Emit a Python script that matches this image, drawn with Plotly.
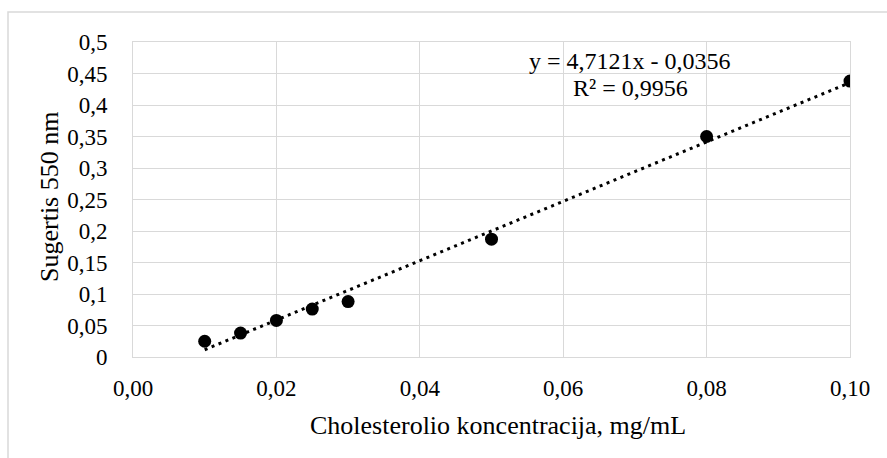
import plotly.graph_objects as go
import numpy as np

# Data
conc = [0.01, 0.015, 0.02, 0.025, 0.03, 0.05, 0.08, 0.10]
absorb = [0.025, 0.038, 0.058, 0.076, 0.088, 0.187, 0.350, 0.438]

x_tickvals = [0.00, 0.02, 0.04, 0.06, 0.08, 0.10]
x_ticktext = ["0,00", "0,02", "0,04", "0,06", "0,08", "0,10"]
y_tickvals = [0, 0.05, 0.10, 0.15, 0.20, 0.25, 0.30, 0.35, 0.40, 0.45, 0.50]
y_ticktext = ["0", "0,05", "0,1", "0,15", "0,2", "0,25", "0,3", "0,35", "0,4", "0,45", "0,5"]

slope = 4.7121
intercept = -0.0356
eq_text = "y = 4,7121x - 0,0356"
r2_text = "R² = 0,9956"
x_title = "Cholesterolio koncentracija, mg/mL"
y_title = "Sugertis 550 nm"

FONT = "'Liberation Serif', 'Times New Roman', serif"
GRID = "#d9d9d9"

trend_x = np.array([min(conc), max(conc)])
trend_y = slope * trend_x + intercept

fig = go.Figure()
fig.add_trace(go.Scatter(
    x=trend_x, y=trend_y, mode="lines",
    line=dict(color="black", width=3, dash="3px,4.5px"),
    hoverinfo="skip", showlegend=False,
))
fig.add_trace(go.Scatter(
    x=conc, y=absorb, mode="markers",
    marker=dict(color="black", size=13),
    showlegend=False,
))

W, H = 887, 458
L, R, T, B = 133, 37, 42, 101
pw, ph = W - L - R, H - T - B

def px(x):
    return (x - L) / pw

def py(y):
    return (H - B - y) / ph

fig.update_layout(
    width=W, height=H,
    margin=dict(l=L, r=R, t=T, b=B),
    paper_bgcolor="white", plot_bgcolor="white",
    font=dict(family=FONT, size=23, color="black"),
    xaxis=dict(
        range=[0, 0.10], tickvals=x_tickvals, ticktext=x_ticktext,
        showgrid=True, gridcolor=GRID, gridwidth=1,
        showline=True, linecolor=GRID, linewidth=1, mirror=True,
        zeroline=False, ticks="", ticklabelstandoff=10,
    ),
    yaxis=dict(
        range=[0, 0.50], tickvals=y_tickvals, ticktext=y_ticktext,
        showgrid=True, gridcolor=GRID, gridwidth=1,
        showline=True, linecolor=GRID, linewidth=1, mirror=True,
        zeroline=False, ticks="", ticklabelstandoff=20,
    ),
    shapes=[dict(
        type="rect", xref="paper", yref="paper",
        x0=px(8), x1=px(895), y0=py(470), y1=py(12),
        line=dict(color=GRID, width=1.5), fillcolor="rgba(0,0,0,0)", layer="below",
    )],
    annotations=[
        dict(text=eq_text, xref="paper", yref="paper", x=px(630), y=py(61),
             showarrow=False, xanchor="center", yanchor="middle",
             font=dict(size=24)),
        dict(text=r2_text, xref="paper", yref="paper", x=px(630), y=py(88),
             showarrow=False, xanchor="center", yanchor="middle",
             font=dict(size=24)),
        dict(text=x_title, xref="paper", yref="paper", x=px(498), y=py(425),
             showarrow=False, xanchor="center", yanchor="middle",
             font=dict(size=26)),
        dict(text=y_title, xref="paper", yref="paper", x=px(49), y=py(197),
             showarrow=False, xanchor="center", yanchor="middle", textangle=-90,
             font=dict(size=26)),
    ],
)

fig.write_html("out.html")
